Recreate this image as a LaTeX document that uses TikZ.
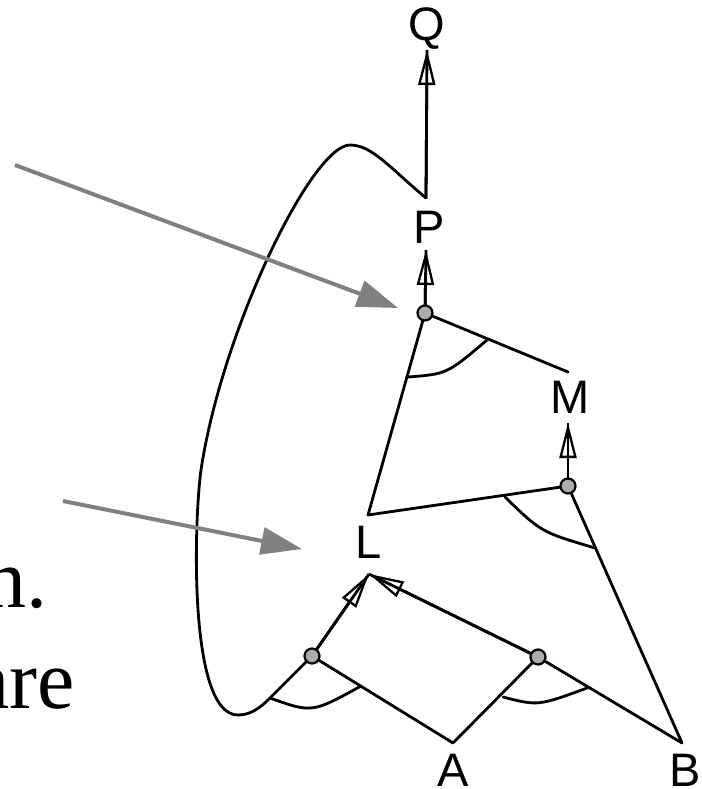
\documentclass[tikz,border=0pt]{standalone}
\usepackage{fontspec}
\setmainfont{Liberation Serif}
\newfontfamily\lblfont{Liberation Sans}
\usetikzlibrary{arrows.meta}

\begin{document}
\begin{tikzpicture}[x=1pt, y=-1pt,
  lbl/.style={inner sep=0pt, anchor=base, font=\lblfont\fontsize{47}{50}\selectfont},
  txt/.style={inner sep=0pt, anchor=base east, font=\fontsize{84}{100}\selectfont},
  jn/.style={draw, circle, fill=gray!65, inner sep=0pt, minimum size=15pt, line width=2.2pt},
  lnk/.style={line width=2.8pt, line cap=round, line join=round},
  fwd/.style={lnk, line cap=butt, -{Triangle[open, length=35pt, width=17pt, line width=2.3pt]}, postaction={draw, -}},
  pnt/.style={color=gray, line width=4pt, -{Triangle[length=41pt, width=27pt]}},
]
\useasboundingbox (0,0) rectangle (701,789);
\clip (0,0) rectangle (701,789);

% text cut off at the left
\node[txt] (t1) at (48,607) {n.};
\node[txt] (t2) at (75,708) {are};

% labels
\node[lbl] (Q) at (427,41) {Q};
\node[lbl] (P) at (429,243) {P};
\node[lbl] (M) at (570,413) {M};
\node[lbl] (L) at (369,558) {L};
\node[lbl] (A) at (453,786) {A};
\node[lbl] (B) at (685,786) {B};

% ports
\coordinate (Q-in) at (427,50);
\coordinate (P-out) at (426,198);
\coordinate (P-in) at (426,250);
\coordinate (M-out) at (568,372);
\coordinate (M-in) at (568,423);
\coordinate (L-out) at (368,515);
\coordinate (L-in) at (369,574);
\coordinate (A-out) at (453,743);
\coordinate (B-out) at (682,743);
\coordinate (loop-in) at (270,698);

% junctions
\coordinate (jP) at (425,313);
\coordinate (jM) at (568,486);
\coordinate (jL1) at (312,656);
\coordinate (jL2) at (538,657);

% arc ends
\coordinate (k1) at (361,686);
\coordinate (k2a) at (503,697);
\coordinate (k2b) at (587,688);
\coordinate (k3a) at (505,497);
\coordinate (k3b) at (595,548);
\coordinate (k4a) at (408,377);
\coordinate (k4b) at (487,340);

% legs
\draw[lnk] (jP) -- (L-out) -- (jM);
\draw[lnk] (jP) -- (M-out);
\draw[lnk] (loop-in) -- (jL1) -- (A-out) -- (jL2) -- (B-out) -- (jM);

% and-arcs
\draw[lnk] (loop-in) .. controls (312,713) .. (k1);
\draw[lnk] (k2a) .. controls (538,706) .. (k2b);
\draw[lnk] (k3a) .. controls (541,532) .. (k3b);
\draw[lnk] (k4a) .. controls (447,374) .. (k4b);

% arrows
\draw[fwd] (jL1) -- (L-in);
\draw[fwd] (jL2) -- (L-in);
\draw[fwd] (jM) -- (M-in);
\draw[fwd] (jP) -- (P-in);
\draw[fwd] (P-out) -- (Q-in);

% loop back from P
\draw[lnk] (P-out) .. controls (390,168) and (372,145) .. (350,145)
  .. controls (312,145) and (222,330) .. (201,470)
  .. controls (194,520) and (188,715) .. (238,715)
  .. controls (252,715) and (262,706) .. (loop-in);

\foreach \j in {jP,jM,jL1,jL2}
  \node[jn] (\j-dot) at (\j) {};

% pointers
\coordinate (p1-from) at (15,165);
\coordinate (p1-to) at (398,308);
\coordinate (p2-from) at (63,501);
\coordinate (p2-to) at (302,549);
\draw[pnt] (p1-from) -- (p1-to);
\draw[pnt] (p2-from) -- (p2-to);
\end{tikzpicture}
\end{document}
